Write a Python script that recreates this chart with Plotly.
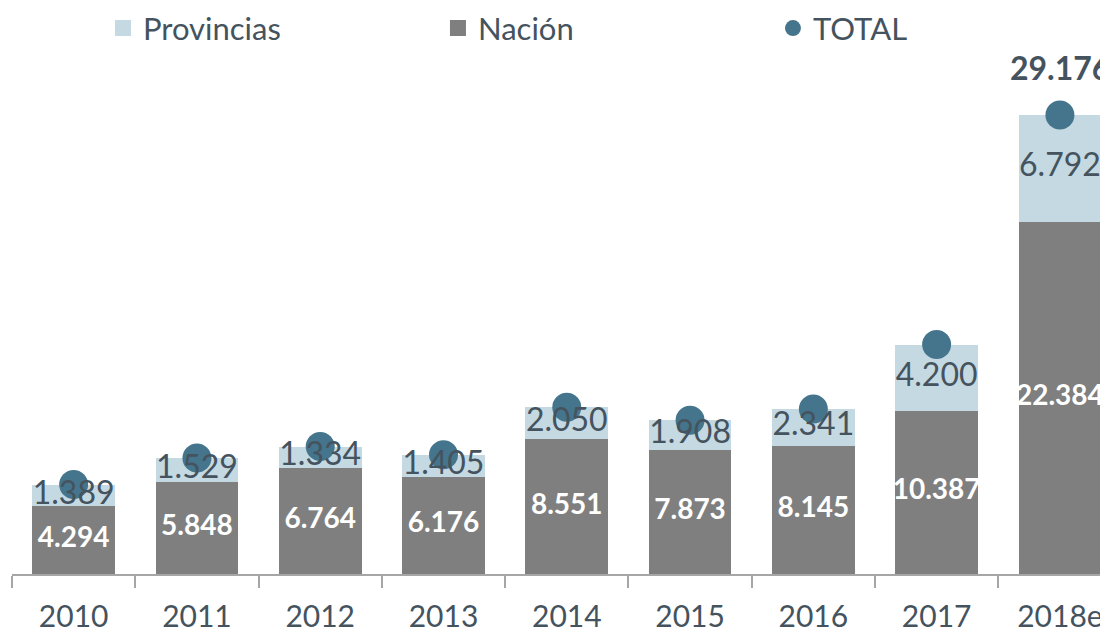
import plotly.graph_objects as go

years = ['2010', '2011', '2012', '2013', '2014', '2015', '2016', '2017', '2018e']
nacion = [4294, 5848, 6764, 6176, 8551, 7873, 8145, 10387, 22384]
provincias = [1389, 1529, 1334, 1405, 2050, 1908, 2341, 4200, 6792]
total = [5682, 7378, 8098, 7581, 10601, 9781, 10486, 14587, 29176]

C_NAC = '#7f7f7f'
C_PROV = '#c4d9e2'
C_TOT = '#45758c'
C_TXT = '#44535e'
FONT = 'Lato'


def fmt(v):
    return f"{v:,}".replace(',', '.')


fig = go.Figure()

fig.add_trace(go.Bar(x=years, y=nacion, marker=dict(color=C_NAC, line=dict(width=0)),
                     showlegend=False, hoverinfo='skip'))
fig.add_trace(go.Bar(x=years, y=provincias, marker=dict(color=C_PROV, line=dict(width=0)),
                     showlegend=False, hoverinfo='skip'))

# TOTAL markers
fig.add_trace(go.Scatter(x=years, y=total, mode='markers',
                         marker=dict(color=C_TOT, size=29, line=dict(width=0)),
                         showlegend=False, cliponaxis=False, hoverinfo='skip'))

# Nación labels
fig.add_trace(go.Scatter(x=years, y=[n / 2 for n in nacion], mode='text',
                         text=[fmt(v) for v in nacion],
                         textfont=dict(family=FONT, size=28, color='white', weight='bold'),
                         showlegend=False, cliponaxis=False, hoverinfo='skip'))
# Provincias labels
fig.add_trace(go.Scatter(x=years, y=[n + p / 2 for n, p in zip(nacion, provincias)], mode='text',
                         text=[fmt(v) for v in provincias],
                         textfont=dict(family=FONT, size=32, color=C_TXT),
                         showlegend=False, cliponaxis=False, hoverinfo='skip'))

# Legend entries
fig.add_trace(go.Scatter(x=[None], y=[None], mode='markers', name='Provincias',
                         marker=dict(symbol='square', color=C_PROV, size=20)))
fig.add_trace(go.Scatter(x=[None], y=[None], mode='markers', name='Nación',
                         marker=dict(symbol='square', color=C_NAC, size=20)))
fig.add_trace(go.Scatter(x=[None], y=[None], mode='markers', name='TOTAL',
                         marker=dict(symbol='circle', color=C_TOT, size=20)))

for yr, t in zip(years, total):
    fig.add_annotation(x=yr, y=t, text=f"<b>{fmt(t)}</b>", showarrow=False,
                       yshift=48, font=dict(family=FONT, size=32, color=C_TXT))

fig.update_layout(
    width=1100, height=627,
    margin=dict(l=4, r=0, t=52, b=61, autoexpand=False),
    paper_bgcolor='white', plot_bgcolor='white',
    barmode='stack', bargap=0.33,
    font=dict(family=FONT, color=C_TXT),
    legend=dict(orientation='h', x=0.083, y=1.114, xanchor='left', yanchor='top',
                traceorder='normal', tracegroupgap=0,
                font=dict(family=FONT, size=31, color=C_TXT),
                entrywidth=290, entrywidthmode='pixels', itemsizing='trace',
                bgcolor='rgba(0,0,0,0)'),
    xaxis=dict(type='category', range=[-0.5, 8.39], showline=True, linecolor='#a6a6a6',
               linewidth=1.5, ticks='outside', tickson='boundaries', ticklen=12,
               tickcolor='#a6a6a6', tickwidth=1.5, showgrid=False, automargin=False,
               tickfont=dict(family=FONT, size=30, color=C_TXT), ticklabelstandoff=15),
    yaxis=dict(range=[0, 32676], visible=False, showgrid=False, zeroline=False,
               automargin=False),
)

fig.write_html('out.html')
